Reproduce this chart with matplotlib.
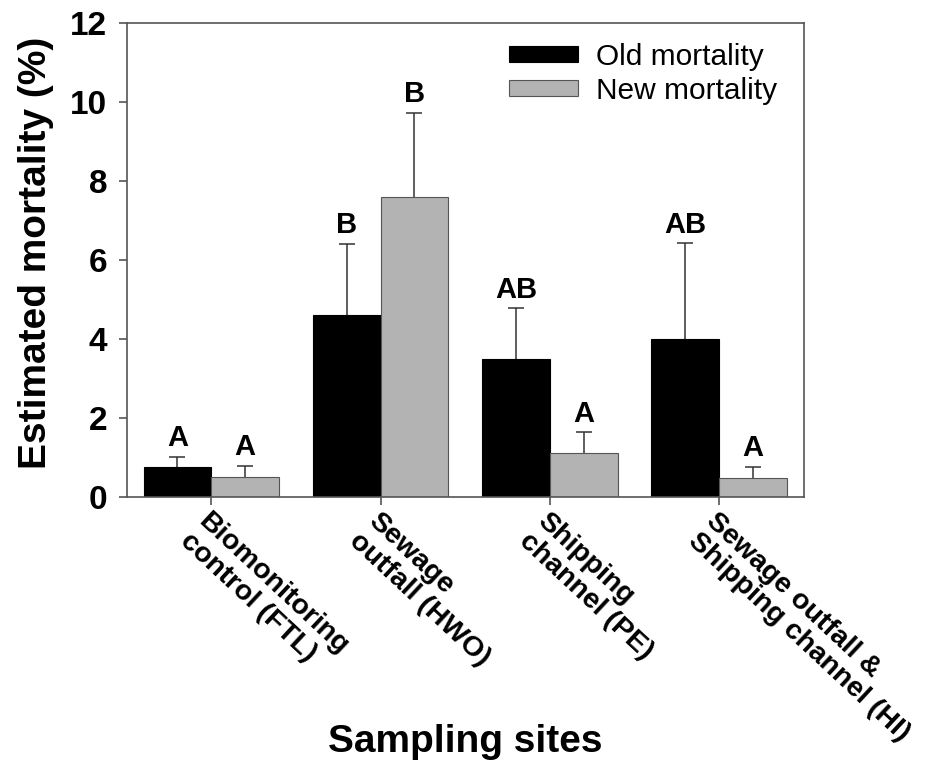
import matplotlib
matplotlib.use("Agg")
import matplotlib.pyplot as plt
import numpy as np

plt.rcParams['font.family'] = ['Liberation Sans', 'DejaVu Sans']

# data
sites = ["Biomonitoring\ncontrol (FTL)", "Sewage\noutfall (HWO)",
         "Shipping\nchannel (PE)", "Sewage outfall &\nShipping channel (HI)"]
old_mort = [0.75, 4.6, 3.5, 4.0]
old_err = [0.25, 1.8, 1.27, 2.42]
new_mort = [0.5, 7.6, 1.1, 0.47]
new_err = [0.28, 2.12, 0.53, 0.29]
old_letters = ["A", "B", "AB", "AB"]
new_letters = ["A", "B", "A", "A"]

fig = plt.figure(figsize=(9.26, 7.61), dpi=100)
ax = fig.add_axes([0.1368, 0.3473, 0.7312, 0.6225])

x = np.arange(len(sites))
w = 0.4
spine_col = "#555555"

# error bars drawn under the bars so only the upper half shows
ax.errorbar(x - w/2, old_mort, yerr=old_err, fmt="none",
            ecolor="#333333", elinewidth=1.1, capsize=6, capthick=1.1, zorder=1)
ax.errorbar(x + w/2, new_mort, yerr=new_err, fmt="none",
            ecolor="#333333", elinewidth=1.1, capsize=6, capthick=1.1, zorder=1)

ax.bar(x - w/2, old_mort, w, color="black", edgecolor="black", linewidth=0.8,
       label="Old mortality", zorder=2)
ax.bar(x + w/2, new_mort, w, color="#b3b3b3", edgecolor="#555555", linewidth=0.8,
       label="New mortality", zorder=2)

for i in range(len(sites)):
    ax.text(x[i] - w/2, old_mort[i] + old_err[i] + 0.12, old_letters[i],
            ha="center", va="bottom", fontsize=21, fontweight="bold")
    ax.text(x[i] + w/2, new_mort[i] + new_err[i] + 0.12, new_letters[i],
            ha="center", va="bottom", fontsize=21, fontweight="bold")

ax.set_xlim(-0.5, 3.5)
ax.set_ylim(0, 12)
ax.set_yticks(range(0, 13, 2))
ax.set_xticks(x)
ax.set_xticklabels(sites, rotation=-43, ha="left", va="top", linespacing=1.05,
                   rotation_mode="anchor", fontsize=20.5, fontweight="bold")
for lab in ax.get_yticklabels():
    lab.set_fontsize(24)
    lab.set_fontweight("bold")

for s in ax.spines.values():
    s.set_color(spine_col)
    s.set_linewidth(1.2)
ax.tick_params(axis="both", color=spine_col, width=1.2, length=6, direction="out")
ax.tick_params(axis="y", pad=8)
ax.tick_params(axis="x", pad=2)

ax.set_ylabel("Estimated mortality (%)", fontsize=28, fontweight="bold")
ax.yaxis.set_label_coords(-0.108, 0.515)
ax.set_xlabel("Sampling sites", fontsize=28, fontweight="bold")
ax.xaxis.set_label_coords(0.5, -0.48)

ax.legend(loc="upper right", bbox_to_anchor=(1.0, 1.015), frameon=False,
          fontsize=21.5, handlelength=2.3, handleheight=0.45, labelspacing=0.2,
          handletextpad=0.6)

fig.savefig("out.png", dpi=100)
